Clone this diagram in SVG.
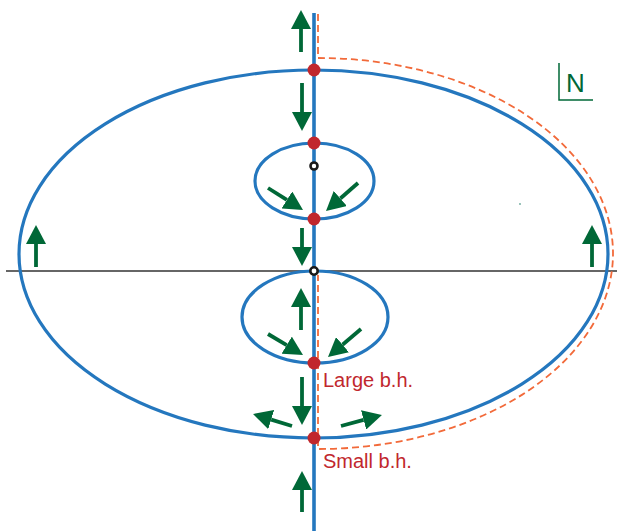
<svg xmlns="http://www.w3.org/2000/svg" width="617" height="531" viewBox="0 0 617 531">
  <style>
    .curve { fill: none; stroke: #2477be; stroke-width: 3.2; }
    .axis { fill: none; stroke: #333333; stroke-width: 1.5; }
    .dash { fill: none; stroke: #f26a3a; stroke-width: 1.8; stroke-dasharray: 7 4; }
    .arrow { fill: none; stroke: #006837; stroke-width: 3.8; marker-end: url(#head); }
    .bh { fill: #c1272d; }
    .eq { fill: #ffffff; stroke: #1a1a1a; stroke-width: 2.6; }
    .label { font-family: "Liberation Sans", Arial, sans-serif; font-size: 20px; fill: #c1272d; }
    .north { font-family: "Liberation Sans", Arial, sans-serif; font-size: 26px; fill: #006837; }
  </style>
  <defs>
    <marker id="head" viewBox="0 0 19 20" refX="0" refY="10" markerWidth="19" markerHeight="20" markerUnits="userSpaceOnUse" orient="auto">
      <path d="M0,0 L19,10 L0,20 Z" fill="#006837"/>
    </marker>
  </defs>
  <rect width="617" height="531" fill="#ffffff"/>

  <g id="connectors">
    <line id="horizon" class="axis" x1="6" y1="271" x2="617" y2="271"/>
    <ellipse id="outer-curve" class="curve" cx="313.5" cy="254" rx="294.5" ry="184"/>
    <ellipse id="upper-loop" class="curve" cx="314.5" cy="181" rx="59.5" ry="38"/>
    <ellipse id="lower-loop" class="curve" cx="315" cy="317" rx="73" ry="46"/>
    <line id="axis-vertical" class="curve" x1="314" y1="13" x2="314" y2="531" style="stroke-width:3.6"/>
    <path id="dashed-boundary" class="dash" d="M318,14 V58 A295,195.5 0 0 1 318,449 V275"/>

    <line class="arrow" x1="301" y1="52" x2="301" y2="29"/>
    <line class="arrow" x1="302" y1="83" x2="302" y2="112"/>
    <line class="arrow" x1="268" y1="188" x2="286.9" y2="199.9"/>
    <line class="arrow" x1="358" y1="183" x2="340.3" y2="198.5"/>
    <line class="arrow" x1="302" y1="228" x2="302" y2="247"/>
    <line class="arrow" x1="301" y1="330" x2="301" y2="307"/>
    <line class="arrow" x1="268" y1="334" x2="286.7" y2="345.2"/>
    <line class="arrow" x1="361" y1="329" x2="342.5" y2="344.7"/>
    <line class="arrow" x1="302" y1="377" x2="302" y2="406"/>
    <line class="arrow" x1="292" y1="426" x2="271.2" y2="419.6"/>
    <line class="arrow" x1="341" y1="426" x2="363.6" y2="419.9"/>
    <line class="arrow" x1="302" y1="512" x2="302" y2="490"/>
    <line class="arrow" x1="36" y1="267" x2="36" y2="244"/>
    <line class="arrow" x1="592" y1="267" x2="592" y2="244"/>
  </g>

  <g id="node-top"><circle class="bh" cx="314" cy="70" r="6.5"/></g>
  <g id="node-upper-top"><circle class="bh" cx="314" cy="143" r="6.5"/></g>
  <g id="node-upper-center"><circle class="eq" cx="314" cy="166" r="3.5"/></g>
  <g id="node-upper-bottom"><circle class="bh" cx="314" cy="219" r="6.5"/></g>
  <g id="node-origin"><circle class="eq" cx="314" cy="271" r="3.7"/></g>
  <g id="node-large-bh">
    <circle class="bh" cx="314" cy="363" r="6.5"/>
    <text class="label" x="323" y="387">Large b.h.</text>
  </g>
  <g id="node-small-bh">
    <circle class="bh" cx="314" cy="438" r="6.5"/>
    <text class="label" x="323" y="468">Small b.h.</text>
  </g>

  <g id="north-label">
    <path d="M559,63 V100 H593" fill="none" stroke="#006837" stroke-width="1.5"/>
    <text class="north" x="566" y="92">N</text>
  </g>
  <circle cx="520" cy="204" r="0.9" fill="#6aa89a"/>
</svg>
